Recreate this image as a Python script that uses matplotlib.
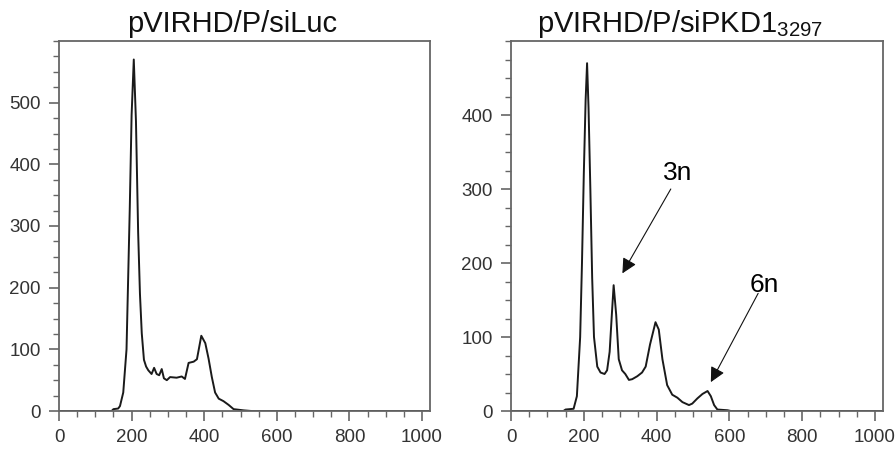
#!/usr/bin/env python

import numpy as np
import matplotlib.pyplot as plt
from matplotlib.ticker import MultipleLocator

plt.rcParams['font.family'] = ['Liberation Sans', 'DejaVu Sans']

# siLuc histogram (DNA content vs count)
luc_x = [0, 100, 145, 150, 163, 168, 177, 186, 195, 200, 206, 212, 218, 223, 228, 234, 240, 246,
         255, 262, 269, 276, 283, 289, 297, 306, 324, 338, 347, 357, 371, 380, 392, 403,
         412, 421, 430, 440, 453, 467, 481, 495, 509, 530, 700, 1020]
luc_y = [0, 0, 0, 3, 4, 8, 30, 100, 330, 480, 570, 470, 290, 190, 126, 83, 72, 66,
         60, 70, 60, 58, 68, 53, 50, 55, 54, 56, 52, 78, 80, 84, 122, 110,
         85, 55, 30, 20, 16, 10, 3, 2, 1, 0, 0, 0]

# siPKD1 3297 histogram
pkd_x = [0, 100, 144, 150, 172, 181, 190, 195, 200, 205, 209, 213, 218, 223, 228, 237, 246, 257,
         264, 271, 277, 282, 289, 296, 305, 314, 324, 333, 347, 360, 370, 382, 397,
         406, 416, 429, 443, 457, 471, 489, 498, 512, 526, 540, 549, 558, 567, 595,
         604, 800, 1020]
pkd_y = [0, 0, 0, 2, 3, 20, 100, 200, 320, 420, 470, 410, 300, 180, 100, 60, 52, 50,
         55, 80, 130, 170, 130, 70, 55, 50, 42, 43, 47, 52, 60, 90, 120,
         110, 70, 35, 22, 18, 12, 8, 10, 17, 23, 27, 20, 8, 2, 1,
         0, 0, 0]

titles = ['pVIRHD/P/siLuc', r'pVIRHD/P/siPKD1$_{\mathregular{3297}}$']

fig = plt.figure(figsize=(8.96, 4.57), dpi=100)
ax1 = fig.add_axes([59/896, 46/457, 371/896, 370/457])
ax2 = fig.add_axes([511/896, 46/457, 372/896, 370/457])

grey = '#666666'
for ax, xs, ys, ytop in [(ax1, luc_x, luc_y, 600), (ax2, pkd_x, pkd_y, 500)]:
    ax.plot(xs, ys, color='#1a1a1a', linewidth=1.4)
    ax.set_xlim(0, 1022)
    ax.set_ylim(0, ytop)
    ax.xaxis.set_major_locator(MultipleLocator(200))
    ax.xaxis.set_minor_locator(MultipleLocator(50))
    ax.yaxis.set_major_locator(MultipleLocator(100))
    ax.yaxis.set_minor_locator(MultipleLocator(25))
    for s in ax.spines.values():
        s.set_color(grey)
        s.set_linewidth(1.3)
    ax.tick_params(which='major', direction='out', length=7, width=1.2, color=grey,
                   labelsize=13.5, labelcolor='#333333', pad=6)
    ax.tick_params(which='minor', direction='out', length=4, width=1.0, color=grey)

ax1.set_yticks([0, 100, 200, 300, 400, 500])
ax2.set_yticks([0, 100, 200, 300, 400])

fig.text(127/896, 425/457, titles[0], fontsize=21, ha='left', va='baseline', color='#111111')
fig.text(537/896, 425/457, titles[1], fontsize=21, ha='left', va='baseline', color='#111111')

arrow = dict(arrowstyle='-|>,head_length=0.9,head_width=0.45', color='#111111',
             linewidth=0.8, shrinkA=0, shrinkB=0)
ax2.annotate('3n', xy=(306, 186), xytext=(458, 322), fontsize=19, ha='center', va='center')
ax2.annotate('', xy=(306, 186), xytext=(439, 300), arrowprops=arrow)
ax2.annotate('6n', xy=(549, 39), xytext=(695, 170), fontsize=19, ha='center', va='center')
ax2.annotate('', xy=(549, 39), xytext=(679, 159), arrowprops=arrow)

plt.savefig('out.png', dpi=100)
plt.close()
